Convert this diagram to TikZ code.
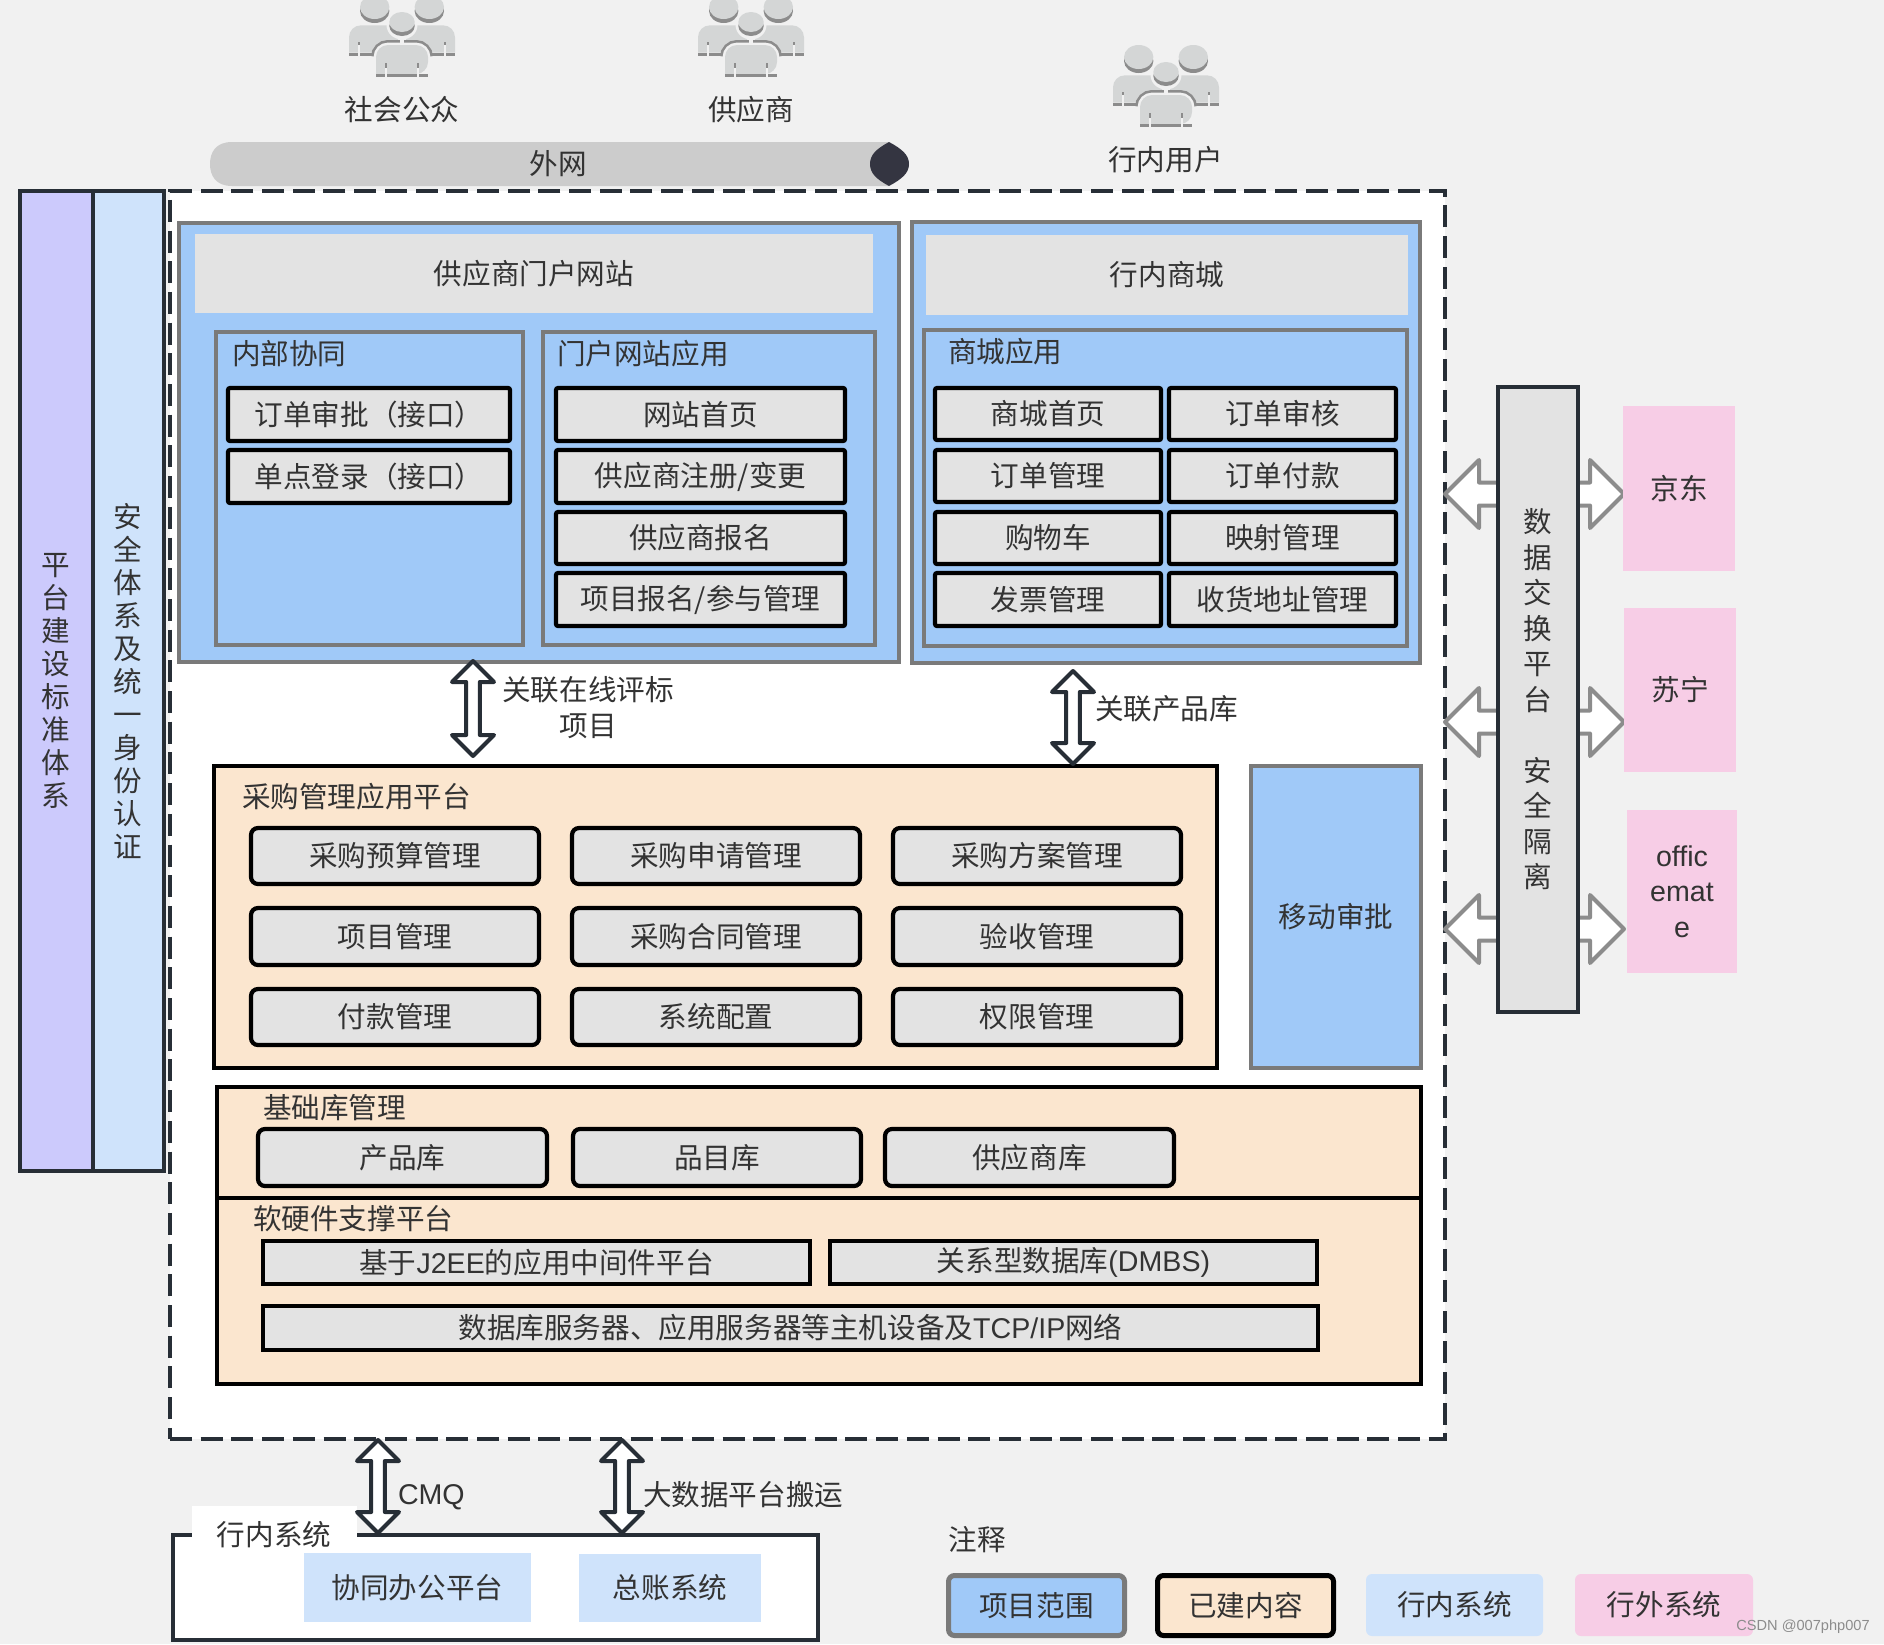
\documentclass[tikz,border=0pt]{standalone}
\usepackage{fontspec}
\setmainfont{Liberation Sans}
\newfontfamily\cjk{Noto Sans CJK SC}
\usetikzlibrary{calc}
\definecolor{bgc}{HTML}{F1F1F1}
\definecolor{greyf}{HTML}{E3E3E3}
\definecolor{bluef}{HTML}{A0C9F8}
\definecolor{lblue}{HTML}{CFE3FB}
\definecolor{purp}{HTML}{CCCAFC}
\definecolor{peach}{HTML}{FBE6CF}
\definecolor{pinkf}{HTML}{F7CDE6}
\definecolor{darkl}{HTML}{272E36}
\definecolor{txtc}{HTML}{333333}
\definecolor{greyl}{HTML}{7A7A7A}
\definecolor{icl}{HTML}{D4D6D6}
\definecolor{icd}{HTML}{8C8C8C}
\definecolor{barc}{HTML}{CCCCCC}
\definecolor{capc}{HTML}{343541}
\newcommand\bx[7]{\node[#2,minimum width={(#5-#3)*0.5pt},minimum height={(#6-#4)*0.5pt}] (#1) at ({(#3+#5)/2},{(#4+#6)/2}) {#7};}
\tikzset{
  txt/.style={inner sep=0pt,outer sep=0pt,text=txtc,font=\cjk\fontsize{14.3}{17.75}\selectfont,align=center},
  lat/.style={font=\rmfamily\fontsize{14.3}{17.75}\selectfont},
  base/.style={txt,line width=2pt},
  outerblue/.style={base,draw=greyl,fill=bluef},
  innerblue/.style={base,draw=greyl,fill=bluef},
  titlebar/.style={txt,fill=greyf},
  sqitem/.style={base,draw=black,fill=greyf,rounded corners=1pt,line width=2.1pt},
  rditem/.style={base,draw=black,fill=greyf,rounded corners=3.5pt,line width=2.1pt},
  flatitem/.style={base,draw=black,fill=greyf},
  peachbox/.style={base,draw=black,fill=peach},
  colbox/.style={base,draw=darkl},
  colcol/.style={colbox,font=\cjk\fontsize{14.3}{16.5}\selectfont},
  pinkbox/.style={txt,fill=pinkf},
  lightbox/.style={txt,fill=lblue},
  leg/.style={txt,rounded corners=3pt,line width=2.5pt},
  blockarrow/.style n args={3}{to path={
    -- ($(\tikztostart)!#1!(\tikztotarget)!#2!90:(\tikztotarget)$)
    -- ($(\tikztostart)!#1!(\tikztotarget)!#3!90:(\tikztotarget)$)
    -- ($(\tikztotarget)!#1!(\tikztostart)!-#3!90:(\tikztostart)$)
    -- ($(\tikztotarget)!#1!(\tikztostart)!-#2!90:(\tikztostart)$)
    -- (\tikztotarget)
    -- ($(\tikztotarget)!#1!(\tikztostart)!#2!90:(\tikztostart)$)
    -- ($(\tikztotarget)!#1!(\tikztostart)!#3!90:(\tikztostart)$)
    -- ($(\tikztostart)!#1!(\tikztotarget)!-#3!90:(\tikztotarget)$)
    -- ($(\tikztostart)!#1!(\tikztotarget)!-#2!90:(\tikztotarget)$)
    -- cycle}},
  darkarrow/.style={draw=darkl,fill=white,line width=2pt,line join=round,blockarrow={10.5pt}{10.5pt}{3.4pt}},
  greyarrow/.style={draw=icd,fill=white,line width=2pt,line join=round,blockarrow={17pt}{17pt}{5.75pt}},
  people/.pic={
    \foreach \s in {-1,1}{
      \fill[icl] (\s*53,-24.3) [rounded corners=6pt] -- (\s*53,-51.7) -- (\s*4,-51.7) [sharp corners] -- (\s*4,-24.3) -- cycle;
      \fill[icd] (\s*53,-20.7) rectangle (\s*20,-24.3);
      \fill[bgc] (\s*44.3,-20.7) rectangle (\s*42.3,-32);
      \fill[icd] (\s*44.3,-32) rectangle (\s*42.3,-35);
      \fill[icd] (\s*27.3,-66) ellipse [x radius=14.7,y radius=12];
      \fill[icl] (\s*27.3,-70) ellipse [x radius=14.7,y radius=12];
    }
    % halo of the front figure
    \draw[icd,line width=5pt,rounded corners=6pt] (-26,-20) -- (-26,-32) -- (26,-32) -- (26,-20);
    \draw[bgc,line width=2.4pt,rounded corners=6pt] (-26,0) -- (-26,-32) -- (26,-32) -- (26,0);
    \fill[bgc] (-2,-38) rectangle (1.5,-32);
    \fill[bgc] (0,-52) ellipse [x radius=15.5,y radius=14.5];
    \fill[icd] (0,-51) ellipse [x radius=12.7,y radius=10];
    \fill[icl] (0,-55) ellipse [x radius=12.7,y radius=10];
    \fill[icl] (-26,-3) [rounded corners=6pt] -- (-26,-32) -- (26,-32) [sharp corners] [rounded corners=6pt] -- (26,-3) [sharp corners] -- cycle;
    \fill[icd] (-26,0) rectangle (26,-3.3);
    \fill[bgc] (-17,0) rectangle (-15,-9);
    \fill[bgc] (17,0) rectangle (15,-9);
    \fill[icd] (-17,-9) rectangle (-15,-14);
    \fill[icd] (17,-9) rectangle (15,-14);
  }
}
\begin{document}
\begin{tikzpicture}[x=0.5pt,y=-0.5pt]
\useasboundingbox[fill=bgc] (0,0) rectangle (1884,1644);
% people
\pic (pa) at (402,77) {people};
\pic (pb) at (751,77) {people};
\pic (pc) at (1166,127) {people};
\node[txt] (la) at (402,110) {社会公众};
\node[txt] (lb) at (751,110) {供应商};
\node[txt] (lc) at (1165.5,159.5) {行内用户};
% external bar
\fill[barc] (889,142) -- (232,142) .. controls (216,142) and (210,152) .. (210,164) .. controls (210,176) and (216,186) .. (232,186) -- (889,186) -- cycle;
\fill[capc] (889,142) .. controls (902,149) and (909,155) .. (909,164) .. controls (909,173) and (902,179) .. (889,186) .. controls (876,179) and (870,173) .. (870,164) .. controls (870,155) and (876,149) .. (889,142) -- cycle;
\node[txt] (wan) at (558.5,164) {外网};
% scope
\node[draw=darkl,fill=white,line width=1.9pt,dash pattern=on 11pt off 4.35pt,minimum width={(1445-170)*0.5pt},minimum height={(1439-191)*0.5pt},inner sep=0pt] (scope) at ({(1445+170)/2},{(1439+191)/2}) {};
% left columns
\bx{cola}{colcol,fill=purp}{20}{191}{92.5}{1170.5}{平\\台\\建\\设\\标\\准\\体\\系}
\bx{colb}{colcol,fill=lblue}{92.5}{191}{164}{1170.5}{安\\全\\体\\系\\及\\统\\一\\身\\份\\认\\证}
% portal
\bx{portal}{outerblue}{179}{223}{899}{662}{}
\bx{portalt}{titlebar}{195}{234}{873}{313}{供应商门户网站}
\bx{inner}{innerblue}{216}{332}{523}{645}{}
\node[txt,anchor=west] (innerl) at (232,354) {内部协同};
\bx{i1}{sqitem}{228}{388}{510}{441}{订单审批（接口）}
\bx{i2}{sqitem}{228}{450}{510}{503}{单点登录（接口）}
\bx{papp}{innerblue}{543}{332}{875}{645}{}
\node[txt,anchor=west] (pappl) at (557,354) {门户网站应用};
\bx{p1}{sqitem}{556}{388}{845}{441}{网站首页}
\bx{p2}{sqitem}{556}{450}{845}{503}{供应商注册/变更}
\bx{p3}{sqitem}{556}{512}{845}{564}{供应商报名}
\bx{p4}{sqitem}{556}{573}{845}{626}{项目报名/参与管理}
% mall
\bx{mall}{outerblue}{912}{222}{1420}{663}{}
\bx{mallt}{titlebar}{926}{235}{1408}{315}{行内商城}
\bx{mapp}{innerblue}{924}{330}{1407}{646}{}
\node[txt,anchor=west] (mappl) at (948,352) {商城应用};
\bx{m1}{sqitem}{935}{388}{1161}{440}{商城首页}
\bx{m2}{sqitem}{1169}{388}{1396}{440}{订单审核}
\bx{m3}{sqitem}{935}{450}{1161}{502}{订单管理}
\bx{m4}{sqitem}{1169}{450}{1396}{502}{订单付款}
\bx{m5}{sqitem}{935}{512}{1161}{564}{购物车}
\bx{m6}{sqitem}{1169}{512}{1396}{564}{映射管理}
\bx{m7}{sqitem}{935}{573}{1161}{626}{发票管理}
\bx{m8}{sqitem}{1169}{573}{1396}{626}{收货地址管理}
% purchase
\bx{pur}{peachbox}{214}{766}{1217}{1068}{}
\node[txt,anchor=west] (purl) at (242,797) {采购管理应用平台};
\bx{u1}{rditem}{251}{828}{539}{884}{采购预算管理}
\bx{u2}{rditem}{572}{828}{860}{884}{采购申请管理}
\bx{u3}{rditem}{893}{828}{1181}{884}{采购方案管理}
\bx{u4}{rditem}{251}{908}{539}{965}{项目管理}
\bx{u5}{rditem}{572}{908}{860}{965}{采购合同管理}
\bx{u6}{rditem}{893}{908}{1181}{965}{验收管理}
\bx{u7}{rditem}{251}{989}{539}{1045}{付款管理}
\bx{u8}{rditem}{572}{989}{860}{1045}{系统配置}
\bx{u9}{rditem}{893}{989}{1181}{1045}{权限管理}
\bx{mob}{outerblue}{1251}{766}{1421}{1068}{移动审批}
% base
\bx{bas}{peachbox}{217}{1087}{1421}{1198}{}
\node[txt,anchor=west] (basl) at (263,1108) {基础库管理};
\bx{b1}{rditem}{258}{1129}{547}{1186}{产品库}
\bx{b2}{rditem}{573}{1129}{861}{1186}{品目库}
\bx{b3}{rditem}{885}{1129}{1174}{1186}{供应商库}
\bx{sup1}{peachbox}{217}{1198}{1421}{1384}{}
\node[txt,anchor=west] (supl) at (253,1218.5) {软硬件支撑平台};
\node[flatitem,minimum width=273.5pt,minimum height=21.5pt] (s1) at (536.5,1262.5) {基于{\rmfamily J2EE}的应用中间件平台};
\node[flatitem,minimum width=243.5pt,minimum height=21.5pt] (s2) at (1073.5,1262.5) {关系型数据库{\rmfamily (DMBS)}};
\node[flatitem,minimum width=527.5pt,minimum height=22pt] (s3) at (790.5,1328) {数据库服务器、应用服务器等主机设备及{\rmfamily TCP/IP}网络};
% link arrows
\coordinate (a1t) at (473,661);
\coordinate (a1b) at (473,756);
\coordinate (a2t) at (1073,671);
\coordinate (a2b) at (1073,764);
\draw[darkarrow] (a1t) to (a1b);
\draw[darkarrow] (a2t) to (a2b);
\node[txt,font=\cjk\fontsize{14.3}{18}\selectfont] (a1l) at (588,708) {关联在线评标\\项目};
\node[txt,anchor=west] (a2l) at (1095,709) {关联产品库};
% exchange arrows
\coordinate (e1l) at (1445,494);
\coordinate (e1r) at (1624,494);
\coordinate (e2l) at (1445,722);
\coordinate (e2r) at (1624,722);
\coordinate (e3l) at (1445,929);
\coordinate (e3r) at (1624,929);
\draw[greyarrow] (e1l) to (e1r);
\draw[greyarrow] (e2l) to (e2r);
\draw[greyarrow] (e3l) to (e3r);
\bx{plat}{colbox,fill=greyf}{1498}{387}{1578}{1012}{数\\据\\交\\换\\平\\台\\ \\安\\全\\隔\\离}
\bx{jd}{pinkbox}{1623}{406}{1735}{571}{京东}
\bx{sn}{pinkbox}{1624}{608}{1736}{772}{苏宁}
\node[pinkbox,lat,minimum width=55pt,minimum height=81.5pt] (om) at (1682,891.5) {offic\\emat\\e};
% internal systems
\bx{sys}{base,draw=darkl,fill=white}{173}{1535}{818}{1640}{}
\bx{sysbg}{txt,fill=white}{192}{1506}{357}{1541}{}
\node[txt] (sysl) at (274,1535) {行内系统};
\bx{y1}{lightbox}{304}{1553}{531}{1622}{协同办公平台}
\bx{y2}{lightbox}{579}{1554}{761}{1622}{总账系统}
\coordinate (c1t) at (378,1440);
\coordinate (c1b) at (378,1533);
\coordinate (c2t) at (622,1440);
\coordinate (c2b) at (622,1533);
\draw[darkarrow] (c1t) to (c1b);
\draw[darkarrow] (c2t) to (c2b);
\node[txt,lat,anchor=west] (c1l) at (398,1497) {CMQ};
\node[txt,anchor=west] (c2l) at (643,1495) {大数据平台搬运};
% legend
\node[txt] (lg) at (977,1540) {注释};
\bx{g1}{leg,draw=greyl,fill=bluef}{948.5}{1575.5}{1124.5}{1635.5}{项目范围}
\bx{g2}{leg,draw=black,fill=peach}{1157.5}{1575.5}{1333.5}{1635.5}{已建内容}
\bx{g3}{leg,fill=lblue}{1366}{1574}{1543}{1636}{行内系统}
\bx{g4}{leg,fill=pinkf}{1575}{1574}{1753}{1636}{行外系统}
\node[inner sep=0pt,text=black!45,font=\rmfamily\fontsize{7.3}{9}\selectfont] (wm) at (1803,1627) {CSDN @007php007};
\end{tikzpicture}
\end{document}
